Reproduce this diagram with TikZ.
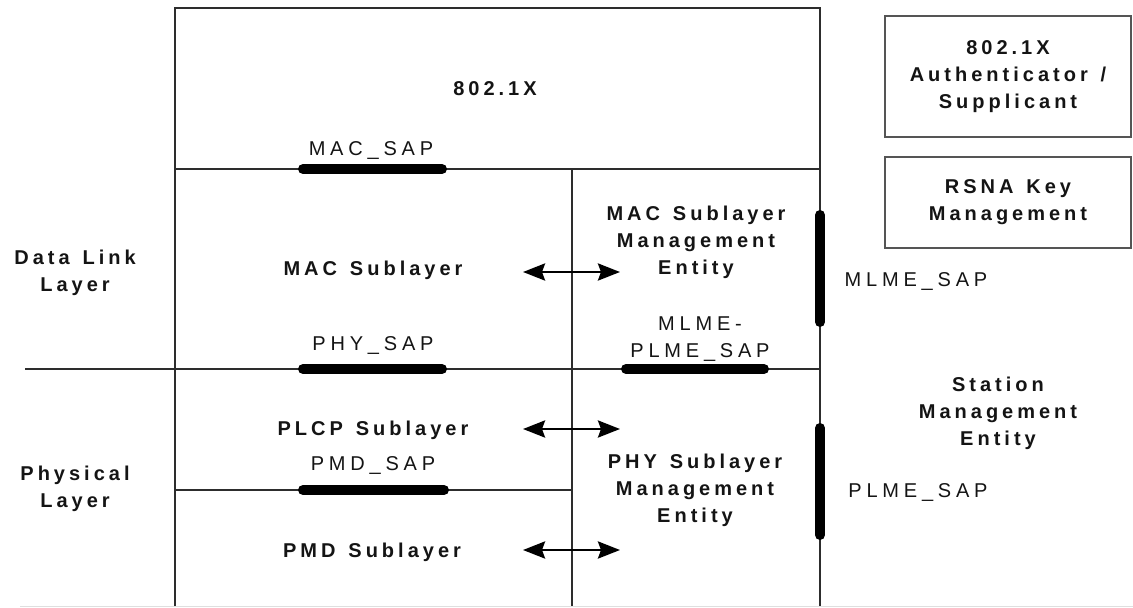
\documentclass[tikz,border=0pt]{standalone}
\usepackage{fontspec}
\setmainfont{Liberation Sans}[LetterSpace=20, WordSpace=1.35]
\newfontfamily\sapfont{Liberation Sans}[LetterSpace=24]
\usetikzlibrary{arrows.meta,positioning}
\definecolor{frameline}{RGB}{45,45,45}
\definecolor{boxline}{RGB}{85,85,85}
\definecolor{labeltext}{RGB}{20,20,20}

\begin{document}
\begin{tikzpicture}[x=1pt, y=-1pt,
  every node/.style={inner sep=0pt, align=center, text=labeltext},
  layer/.style={font=\fontsize{20}{27}\selectfont\bfseries},
  saplabel/.style={font=\sapfont\fontsize{20}{27}\selectfont},
  oneline/.style={text height=14pt, text depth=0pt},
  box/.style={draw=boxline, line width=1.3pt, minimum width=246pt},
  frame/.style={draw=frameline, line width=1.2pt},
  sap/.style={line width=10pt, line cap=round, black},
  arrow/.style={{Stealth[length=22pt,width=17pt,inset=3pt]}-{Stealth[length=22pt,width=17pt,inset=3pt]}, line width=2.8pt, black}
]
  \useasboundingbox (0,0) rectangle (1133,608);

  % Frame
  \coordinate (tl) at (175,8);
  \coordinate (tr) at (820,8);
  \coordinate (bl) at (175,606);
  \coordinate (br) at (820,606);
  \coordinate (macL) at (175,169);
  \coordinate (macR) at (820,169);
  \coordinate (divT) at (572,169);
  \coordinate (divB) at (572,606);
  \coordinate (phyL) at (25,369);
  \coordinate (phyR) at (820,369);
  \coordinate (pmdL) at (175,490);
  \coordinate (pmdR) at (572,490);

  \draw [gray!25, line width=1pt] (20,606) -- (1133,606);
  \draw [frame] (bl) -- (tl) -- (tr) -- (br);
  \draw [frame] (macL) -- (macR);
  \draw [frame] (divT) -- (divB);
  \draw [frame] (phyL) -- (phyR);
  \draw [frame] (pmdL) -- (pmdR);

  % Service access points
  \coordinate (macsapA) at (303,169);
  \coordinate (macsapB) at (442,169);
  \coordinate (physapA) at (303,369);
  \coordinate (physapB) at (442,369);
  \coordinate (pmdsapA) at (303,490);
  \coordinate (pmdsapB) at (444,490);
  \coordinate (mpsapA) at (626,369);
  \coordinate (mpsapB) at (764,369);
  \coordinate (mlmesapA) at (820,215);
  \coordinate (mlmesapB) at (820,322);
  \coordinate (plmesapA) at (820,428);
  \coordinate (plmesapB) at (820,535);

  \draw [sap] (macsapA) -- (macsapB);
  \draw [sap] (physapA) -- (physapB);
  \draw [sap] (pmdsapA) -- (pmdsapB);
  \draw [sap] (mpsapA) -- (mpsapB);
  \draw [sap] (mlmesapA) -- (mlmesapB);
  \draw [sap] (plmesapA) -- (plmesapB);

  % Nodes
  \node (dot1x) [layer, oneline] at (495,88) {802.1X};
  \node (auth) [box, layer, minimum height=121pt] at (1008,76.5) {802.1X\\Authenticator /\\Supplicant};
  \node (rsna) [box, layer, minimum height=91pt] at (1008,202.5) {RSNA Key\\Management};

  \node (macsap) [saplabel, oneline] at (371,148) {MAC\_SAP};
  \node (physap) [saplabel, oneline] at (373,343) {PHY\_SAP};
  \node (pmdsap) [saplabel, oneline] at (373,463) {PMD\_SAP};
  \node (mpsap) [saplabel] at (700,339) {MLME-\\PLME\_SAP};
  \node (mlmesap) [saplabel, oneline] at (916,279) {MLME\_SAP};
  \node (plmesap) [saplabel, oneline] at (918,490) {PLME\_SAP};

  \node (datalink) [layer] at (75,273) {Data Link\\Layer};
  \node (physical) [layer] at (75,489) {Physical\\Layer};
  \node (macsub) [layer, oneline] at (373,268) {MAC Sublayer};
  \node (plcpsub) [layer, oneline] at (373,428) {PLCP Sublayer};
  \node (pmdsub) [layer, oneline] at (372,550) {PMD Sublayer};
  \node (mlme) [layer] at (696,242) {MAC Sublayer\\Management\\Entity};
  \node (plme) [layer] at (695,490) {PHY Sublayer\\Management\\Entity};
  \node (sme) [layer] at (998,413) {Station\\Management\\Entity};

  % Paths
  \coordinate (macarrL) at (523,272);
  \coordinate (macarrR) at (620,272);
  \coordinate (plcparrL) at (523,429);
  \coordinate (plcparrR) at (620,429);
  \coordinate (pmdarrL) at (523,550);
  \coordinate (pmdarrR) at (620,550);

  \draw [arrow] (macarrL) -- (macarrR);
  \draw [arrow] (plcparrL) -- (plcparrR);
  \draw [arrow] (pmdarrL) -- (pmdarrR);
\end{tikzpicture}
\end{document}
